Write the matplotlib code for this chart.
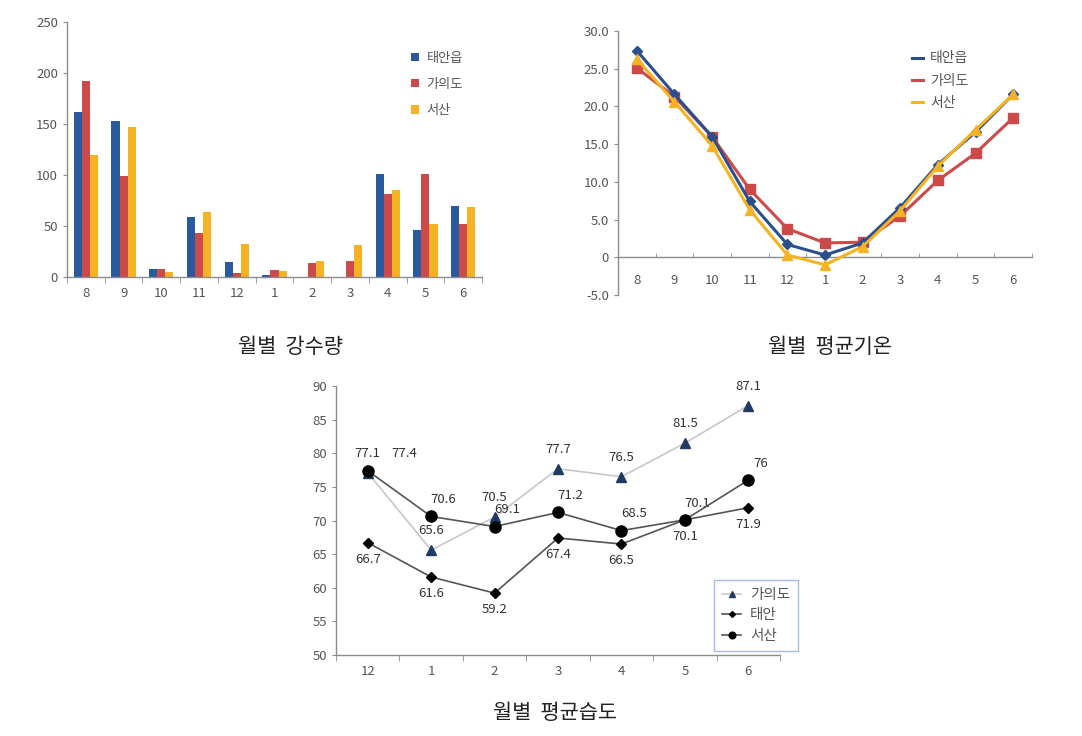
import numpy as np
import matplotlib
matplotlib.use("Agg")
import matplotlib.pyplot as plt
from matplotlib.ticker import FuncFormatter

plt.rcParams['font.family'] = ['Noto Sans CJK KR', 'DejaVu Sans']

# monthly precipitation
rain_months = ['8', '9', '10', '11', '12', '1', '2', '3', '4', '5', '6']
rain_taean = [162, 153, 8, 59, 15, 2, 0, 0, 101, 46, 70]
rain_gauido = [192, 99, 8, 43, 4, 7, 14, 16, 81, 101, 52]
rain_seosan = [120, 147, 5, 64, 32, 6, 16, 31, 85, 52, 69]

# monthly mean temperature
temp_months = ['8', '9', '10', '11', '12', '1', '2', '3', '4', '5', '6']
temp_taean = [27.4, 21.6, 16.0, 7.4, 1.7, 0.3, 1.9, 6.6, 12.3, 16.6, 21.6]
temp_gauido = [25.1, 21.3, 16.0, 9.0, 3.8, 1.9, 2.0, 5.5, 10.2, 13.8, 18.5]
temp_seosan = [26.3, 20.6, 14.8, 6.3, 0.3, -1.0, 1.4, 6.2, 12.1, 16.9, 21.6]

# monthly mean humidity
hum_months = ['12', '1', '2', '3', '4', '5', '6']
hum_gauido = [77.1, 65.6, 70.5, 77.7, 76.5, 81.5, 87.1]
hum_taean = [66.7, 61.6, 59.2, 67.4, 66.5, 70.1, 71.9]
hum_seosan = [77.4, 70.6, 69.1, 71.2, 68.5, 70.1, 76]

BLUE = '#2A5A9E'
RED = '#CC4A4A'
YEL = '#F5B222'
AXC = '#8C8C8C'
TXC = '#555555'

W, H = 1082, 736
fig = plt.figure(figsize=(W / 100, H / 100), dpi=100)


def px_axes(left, top, right, bottom):
    return fig.add_axes([left / W, 1 - bottom / H, (right - left) / W, (bottom - top) / H])


def style(ax, n):
    for s in ['top', 'right']:
        ax.spines[s].set_visible(False)
    for s in ['left', 'bottom']:
        ax.spines[s].set_color(AXC)
        ax.spines[s].set_linewidth(1.0)
    ax.set_xlim(-0.5, n - 0.5)
    ax.set_xticks(np.arange(n))
    ax.set_xticks(np.arange(n + 1) - 0.5, minor=True)
    ax.tick_params(axis='x', which='major', length=0, colors=TXC, labelsize=9.5, pad=7)
    ax.tick_params(axis='x', which='minor', length=4, color=AXC)
    ax.tick_params(axis='y', length=3, color=AXC, colors=TXC, labelsize=9.5)


# --- chart 1: precipitation bars
ax1 = px_axes(67, 22, 482, 277)
x = np.arange(len(rain_months))
bw = 0.215
ax1.bar(x - bw, rain_taean, bw, color=BLUE, label='태안읍')
ax1.bar(x, rain_gauido, bw, color=RED, label='가의도')
ax1.bar(x + bw, rain_seosan, bw, color=YEL, label='서산')
style(ax1, len(rain_months))
ax1.set_xticklabels(rain_months)
ax1.set_ylim(0, 250)
ax1.set_yticks(range(0, 251, 50))
ax1.legend(loc='upper left', bbox_to_anchor=(0.80, 0.93), frameon=False,
           handlelength=0.6, handleheight=0.6, handletextpad=0.6,
           labelspacing=1.0, fontsize=9.5, labelcolor=TXC)

# --- chart 2: temperature lines
ax2 = px_axes(618, 31, 1032, 295)
x = np.arange(len(temp_months))
ax2.plot(x, temp_taean, color='#2B4F8C', lw=2.2, marker='D', ms=5, label='태안읍', zorder=4)
ax2.plot(x, temp_gauido, color=RED, lw=2.2, marker='s', ms=7, label='가의도', zorder=3)
ax2.plot(x, temp_seosan, color=YEL, lw=2.2, marker='^', ms=7, label='서산', zorder=5)
style(ax2, len(temp_months))
ax2.spines['bottom'].set_position(('data', 0))
ax2.set_xticklabels(temp_months)
ax2.tick_params(axis='x', which='major', pad=12)
ax2.tick_params(axis='x', which='minor', direction='in', length=3)
ax2.set_ylim(-5, 30)
ax2.set_yticks(np.arange(-5, 30.1, 5))
ax2.yaxis.set_major_formatter(FuncFormatter(lambda v, p: '0' if abs(v) < 1e-9 else f'{v:.1f}'))
ax2.legend(loc='upper left', bbox_to_anchor=(0.68, 0.97), frameon=False,
           handlelength=0.8, handletextpad=0.5, labelspacing=0.6,
           fontsize=10, labelcolor=TXC, markerscale=0.01)

# --- chart 3: humidity lines with labels
ax3 = px_axes(336, 386, 780, 655)
x = np.arange(len(hum_months))
ax3.plot(x, hum_gauido, color='#C8C8C8', lw=1.2, marker='^', ms=7,
         mfc='#1F3A66', mec='#1F3A66', label='가의도', zorder=3)
ax3.plot(x, hum_taean, color='#555555', lw=1.2, marker='D', ms=5,
         mfc='black', mec='black', label='태안', zorder=4)
ax3.plot(x, hum_seosan, color='#555555', lw=1.2, marker='o', ms=8,
         mfc='black', mec='black', label='서산', zorder=5)
style(ax3, len(hum_months))
ax3.set_xticklabels(hum_months)
ax3.set_ylim(50, 90)
ax3.set_yticks(range(50, 91, 5))

lab_kw = dict(fontsize=9.5, color='#333333', ha='center', va='center')
for i, v in enumerate(hum_gauido):
    ax3.annotate(f'{v:g}', (i, v), xytext=(0, 14), textcoords='offset points', **lab_kw)
for i, v in enumerate(hum_taean):
    ax3.annotate(f'{v:g}', (i, v), xytext=(0, -12), textcoords='offset points', **lab_kw)
for i, v in enumerate(hum_seosan):
    if i == 0:
        # label for the first point sits beside the 가의도 label
        ax3.annotate(f'{v:g}', (i, hum_gauido[0]), xytext=(26, 14), textcoords='offset points', **lab_kw)
    else:
        ax3.annotate(f'{v:g}', (i, v), xytext=(9, 12), textcoords='offset points', **lab_kw)

leg3 = ax3.legend(loc='lower left', bbox_to_anchor=(0.852, 0.015), frameon=True,
                  fancybox=False, handlelength=1.3, handletextpad=0.6,
                  labelspacing=0.45, fontsize=10.5, labelcolor=TXC, borderpad=0.55,
                  markerscale=0.6, borderaxespad=0)
leg3.get_frame().set_edgecolor('#8EA9DB')
leg3.get_frame().set_linewidth(1.0)

# captions
fig.text(290 / W, 1 - 347 / H, '월별  강수량', ha='center', va='center', fontsize=15, color='#222222')
fig.text(830 / W, 1 - 347 / H, '월별  평균기온', ha='center', va='center', fontsize=15, color='#222222')
fig.text(555 / W, 1 - 713 / H, '월별  평균습도', ha='center', va='center', fontsize=15, color='#222222')

fig.savefig('out.png', dpi=100)
